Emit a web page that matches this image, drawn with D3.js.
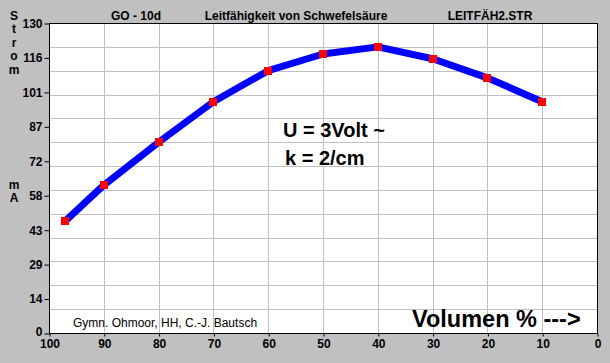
<!DOCTYPE html>
<html>
<head>
<meta charset="utf-8">
<title>Leitfähigkeit von Schwefelsäure</title>
<script src="https://cdnjs.cloudflare.com/ajax/libs/d3/7.8.5/d3.min.js"></script>
<style>
  html, body { margin: 0; padding: 0; background: #c0c0c0; }
  svg { display: block; }
  .tick-label { font-family: "Liberation Sans", Arial, sans-serif; font-weight: bold; font-size: 12px; fill: #000; }
  .head { font-family: "Liberation Sans", Arial, sans-serif; font-size: 12px; fill: #000; }
</style>
</head>
<body>
<div id="chart"></div>
<script>
// Messwerte: Volumen-% Schwefelsäure und Strom in mA
const volumen = [97, 90, 80, 70, 60, 50, 40, 30, 20, 10];
const strom = [47, 62, 80, 97, 110, 117, 120, 115, 107, 97];

const xTicks = [100, 90, 80, 70, 60, 50, 40, 30, 20, 10, 0];
const yTickLabels = ['0', '14', '29', '43', '58', '72', '87', '101', '116', '130'];
const yMax = 130;

const width = 610, height = 363;
const plot = { left: 49, right: 597, top: 23, bottom: 333 };

const svg = d3.select('#chart').append('svg')
    .attr('width', width)
    .attr('height', height);

svg.append('rect')
    .attr('width', width).attr('height', height)
    .attr('fill', '#c0c0c0');

const x = d3.scaleLinear().domain([100, 0]).range([plot.left, plot.right]);
const y = d3.scaleLinear().domain([0, yMax]).range([plot.bottom, plot.top]);

// Plotfläche
svg.append('rect')
    .attr('x', plot.left).attr('y', plot.top)
    .attr('width', plot.right - plot.left)
    .attr('height', plot.bottom - plot.top)
    .attr('fill', '#fff');

// Gitter: alle 10 Einheiten
const grid = svg.append('g').attr('stroke', '#c0c0c0').attr('stroke-width', 1);
grid.selectAll('line.v')
    .data(d3.range(10, 100, 10))
    .join('line')
    .attr('class', 'v')
    .attr('x1', d => Math.round(x(d)) + 0.5).attr('x2', d => Math.round(x(d)) + 0.5)
    .attr('y1', plot.top).attr('y2', plot.bottom);
grid.selectAll('line.h')
    .data(d3.range(10, yMax, 10))
    .join('line')
    .attr('class', 'h')
    .attr('y1', d => Math.round(y(d)) + 0.5).attr('y2', d => Math.round(y(d)) + 0.5)
    .attr('x1', plot.left).attr('x2', plot.right);

// Rahmen
svg.append('rect')
    .attr('x', plot.left + 0.5).attr('y', plot.top + 0.5)
    .attr('width', plot.right - plot.left)
    .attr('height', plot.bottom - plot.top)
    .attr('fill', 'none')
    .attr('stroke', '#000');

// x-Achse
const xAxis = d3.axisBottom(x)
    .tickValues(xTicks)
    .tickSize(3)
    .tickPadding(3)
    .tickFormat(d3.format('d'));
const gx = svg.append('g')
    .attr('transform', `translate(0.5,${plot.bottom + 0.5})`)
    .call(xAxis);
gx.select('.domain').remove();
gx.selectAll('line').attr('stroke', '#000');
gx.selectAll('text').attr('class', 'tick-label').attr('font-family', null).attr('font-size', null);

// y-Achse (Beschriftung in Neuntel-Schritten)
const yAxis = d3.axisLeft(y)
    .tickValues(yTickLabels.map((_, i) => i * yMax / 9))
    .tickSize(5)
    .tickPadding(2)
    .tickFormat((d, i) => yTickLabels[i]);
const gy = svg.append('g')
    .attr('transform', `translate(${plot.left + 0.5},0.5)`)
    .call(yAxis);
gy.select('.domain').remove();
gy.selectAll('line').attr('stroke', '#000');
gy.selectAll('text').attr('class', 'tick-label').attr('font-family', null).attr('font-size', null);
// unterste Beschriftung etwas anheben, damit sie die "100" nicht berührt
gy.selectAll('.tick text').filter((d, i) => i === 0).attr('dy', '0.2em');

// Kopfzeile
svg.append('text').attr('class', 'head').attr('x', 136).attr('y', 20)
    .attr('text-anchor', 'middle').attr('font-weight', 'bold').text('GO - 10d');
svg.append('text').attr('class', 'head').attr('x', 296).attr('y', 20)
    .attr('text-anchor', 'middle').attr('font-weight', 'bold').attr('font-size', 11.5)
    .text('Leitfähigkeit von Schwefelsäure');
svg.append('text').attr('class', 'head').attr('x', 490).attr('y', 20)
    .attr('text-anchor', 'middle').attr('font-weight', 'bold').attr('font-size', 11.5)
    .text('LEITFÄH2.STR');

// senkrechte Achsenbeschriftung
const yLetters = ['S', 't', 'r', 'o', 'm'];
svg.append('g').selectAll('text')
    .data(yLetters)
    .join('text')
    .attr('class', 'tick-label')
    .attr('x', 14)
    .attr('y', (d, i) => 20 + i * 13.4)
    .attr('text-anchor', 'middle')
    .text(d => d);
const unitLetters = ['m', 'A'];
svg.append('g').selectAll('text')
    .data(unitLetters)
    .join('text')
    .attr('class', 'tick-label')
    .attr('x', 14)
    .attr('y', (d, i) => 189 + i * 13)
    .attr('text-anchor', 'middle')
    .text(d => d);

// Messkurve
const line = d3.line()
    .x(d => x(d[0]))
    .y(d => y(d[1]));
const pts = volumen.map((v, i) => [v, strom[i]]);

svg.append('path')
    .datum(pts)
    .attr('d', line)
    .attr('fill', 'none')
    .attr('stroke', '#0000ff')
    .attr('stroke-width', 7)
    .attr('stroke-linejoin', 'round');

const m = 8;
svg.append('g').selectAll('rect')
    .data(pts)
    .join('rect')
    .attr('x', d => Math.round(x(d[0]) - m / 2))
    .attr('y', d => Math.round(y(d[1]) - m / 2))
    .attr('width', m).attr('height', m)
    .attr('fill', '#ff0000');

// Textfelder im Diagramm
const big = 'font-family:"Liberation Sans",Arial,sans-serif;font-weight:bold;fill:#000';
svg.append('text').attr('x', 283).attr('y', 137).attr('style', big)
    .attr('font-size', 20).text('U = 3Volt ~');
svg.append('text').attr('x', 285).attr('y', 165).attr('style', big)
    .attr('font-size', 20).text('k = 2/cm');
svg.append('text').attr('x', 412).attr('y', 327).attr('style', big)
    .attr('font-size', 23.5).text('Volumen % --->');
svg.append('text').attr('class', 'head').attr('x', 73).attr('y', 327)
    .text('Gymn. Ohmoor, HH, C.-J. Bautsch');
</script>
</body>
</html>
